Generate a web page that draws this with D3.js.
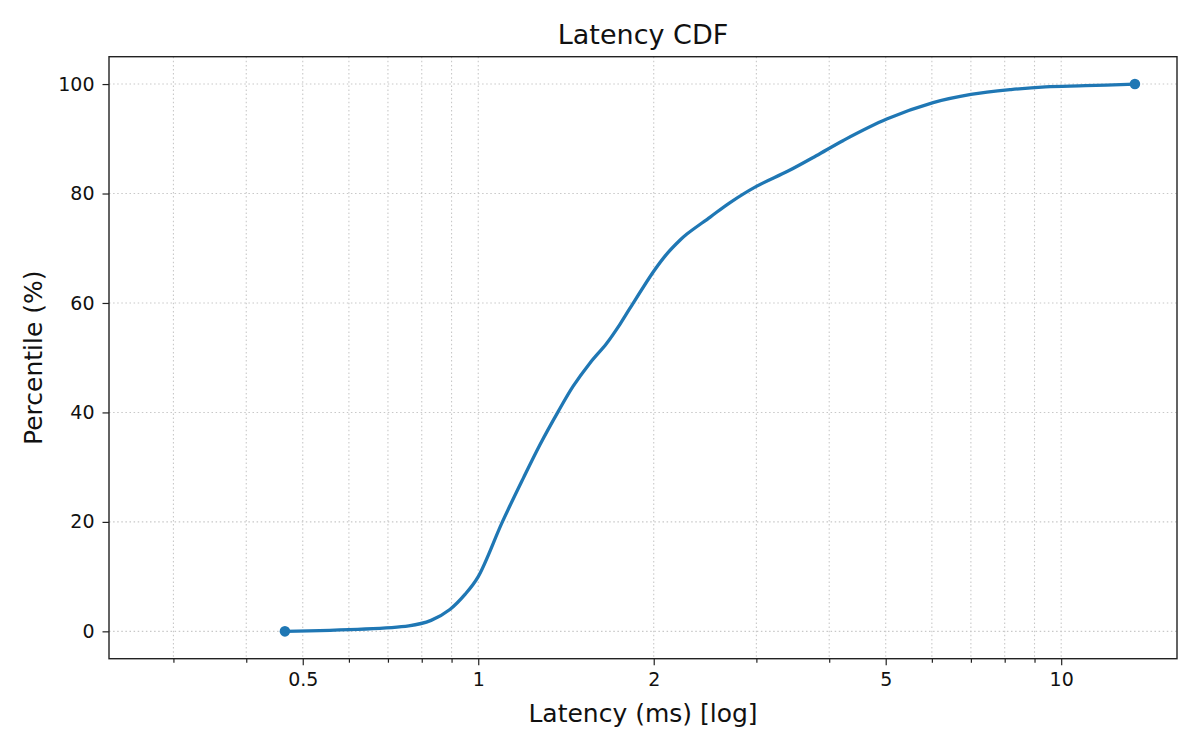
<!DOCTYPE html>
<html>
<head>
<meta charset="utf-8">
<script src="https://cdn.jsdelivr.net/npm/d3@7"></script>
<style>
  body { margin: 0; background: #fff; }
  svg { display: block; font-family: "DejaVu Sans", sans-serif; }
</style>
</head>
<body>
<svg id="chart" width="1200" height="750"></svg>
<script>
// latency (ms) vs percentile
const latencyMs = [0.466, 0.76, 0.83, 0.894, 0.95, 1.0, 1.1, 1.195, 1.276, 1.372, 1.455, 1.554, 1.66, 1.75, 1.82, 2.0, 2.1, 2.22, 2.28, 2.5, 2.7, 3.0, 3.4, 3.8, 4.23, 5.02, 6.03, 7.0, 8.2, 9.4, 11, 13.38];
const percentile = [0, 1, 2, 4, 6.8, 10, 20, 28, 34.1, 40.2, 44.8, 49.0, 52.6, 56.1, 59, 65.8, 68.8, 71.5, 72.6, 75.7, 78.3, 81.3, 84.1, 86.9, 89.7, 93.6, 96.6, 98.1, 99.0, 99.5, 99.7, 100];

const xMajorTicks = [0.5, 1, 2, 5, 10];
const xMinorTicks = [0.3, 0.4, 0.6, 0.7, 0.8, 0.9, 3, 4, 6, 7, 8, 9];
const yTicks = [0, 20, 40, 60, 80, 100];

function render() {
    const svg = d3.select('#chart');
    const left = 109, right = 1177, top = 56.7, bottom = 658.7;

    const x = d3.scaleLog().domain([0.2326, 15.8]).range([left, right]);
    const y = d3.scaleLinear().domain([-5, 105]).range([bottom, top]);

    const points = latencyMs.map((v, i) => [v, percentile[i]]);

    // grid: x on major + minor ticks, y on major
    const grid = svg.append('g')
        .attr('stroke', '#c8c8c8')
        .attr('stroke-width', 1.1)
        .attr('stroke-dasharray', '1.5,2.6');
    grid.selectAll('line.gx')
        .data(xMajorTicks.concat(xMinorTicks))
        .join('line')
        .attr('x1', d => x(d)).attr('x2', d => x(d))
        .attr('y1', top).attr('y2', bottom);
    grid.selectAll('line.gy')
        .data(yTicks)
        .join('line')
        .attr('x1', left).attr('x2', right)
        .attr('y1', d => y(d)).attr('y2', d => y(d));

    // the curve
    svg.append('path')
        .datum(points)
        .attr('fill', 'none')
        .attr('stroke', '#1f77b4')
        .attr('stroke-width', 3.3)
        .attr('stroke-linejoin', 'round')
        .attr('stroke-linecap', 'round')
        .attr('d', d3.line()
            .x(d => x(d[0]))
            .y(d => y(d[1]))
            .curve(d3.curveCatmullRom.alpha(0.5))
        );

    // end markers
    svg.selectAll('circle.end')
        .data([points[0], points[points.length - 1]])
        .join('circle')
        .attr('cx', d => x(d[0]))
        .attr('cy', d => y(d[1]))
        .attr('r', 5.3)
        .attr('fill', '#1f77b4');

    // axes
    const xAxis = svg.append('g')
        .attr('transform', `translate(0,${bottom})`)
        .call(d3.axisBottom(x).tickValues(xMajorTicks).tickFormat(d3.format('~g')).tickSize(6.5).tickPadding(7));
    svg.append('g')
        .attr('transform', `translate(0,${bottom})`)
        .call(d3.axisBottom(x).tickValues(xMinorTicks).tickFormat('').tickSize(4))
        .call(g => g.select('.domain').remove());

    const yAxis = svg.append('g')
        .attr('transform', `translate(${left},0)`)
        .call(d3.axisLeft(y).tickValues(yTicks).tickSize(6.5).tickPadding(8));

    svg.selectAll('.tick line').attr('stroke', '#222').attr('stroke-width', 1.2);
    svg.selectAll('.tick text')
        .attr('fill', '#111')
        .attr('font-size', 19)
        .attr('font-family', '"DejaVu Sans", sans-serif');
    xAxis.selectAll('.domain').remove();
    yAxis.selectAll('.domain').remove();

    // frame
    svg.append('rect')
        .attr('x', left).attr('y', top)
        .attr('width', right - left).attr('height', bottom - top)
        .attr('fill', 'none')
        .attr('stroke', '#222')
        .attr('stroke-width', 1.4);

    // text
    svg.append('text')
        .attr('x', (left + right) / 2).attr('y', 43.5)
        .attr('text-anchor', 'middle')
        .attr('font-size', 27)
        .attr('fill', '#111')
        .text('Latency CDF');
    svg.append('text')
        .attr('x', (left + right) / 2).attr('y', 721.5)
        .attr('text-anchor', 'middle')
        .attr('font-size', 25)
        .attr('fill', '#111')
        .text('Latency (ms) [log]');
    svg.append('text')
        .attr('transform', `translate(42,${(top + bottom) / 2}) rotate(-90)`)
        .attr('text-anchor', 'middle')
        .attr('font-size', 25)
        .attr('fill', '#111')
        .text('Percentile (%)');
}

render();
</script>
</body>
</html>
